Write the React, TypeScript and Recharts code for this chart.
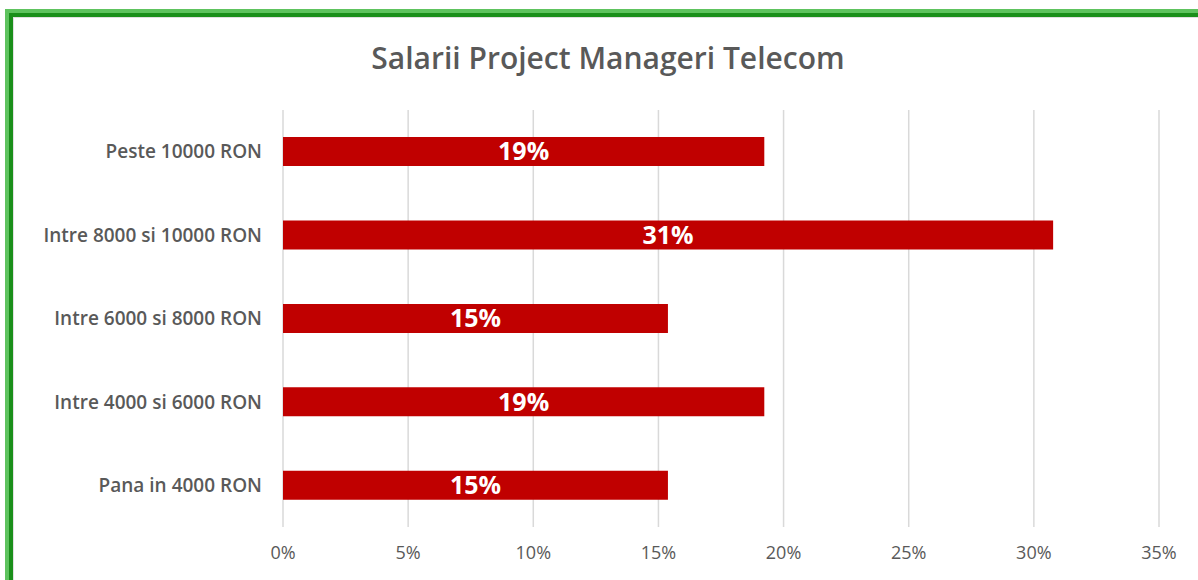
import { BarChart, Bar, XAxis, YAxis, CartesianGrid, LabelList } from "recharts";

const categories: string[] = [
  "Peste 10000 RON",
  "Intre 8000 si 10000 RON",
  "Intre 6000 si 8000 RON",
  "Intre 4000 si 6000 RON",
  "Pana in 4000 RON",
];

// share of respondents, in percent
const shares: number[] = [19.23, 30.77, 15.38, 19.23, 15.38];

const xTicks: number[] = [0, 5, 10, 15, 20, 25, 30, 35];

const data = categories.map((name, i) => ({ name, value: shares[i] }));

const gray = "#595959";
const font = "'Open Sans', 'Liberation Sans', sans-serif";

export default function App() {
  return (
    <div
      style={{
        position: "absolute",
        left: 0,
        top: 0,
        width: 1198,
        height: 580,
        background: "#fff",
        overflow: "hidden",
      }}
    >
      {/* green frame, only the top and left edges are visible */}
      <div
        style={{
          position: "absolute",
          left: 5,
          top: 9,
          width: 1300,
          height: 700,
          borderLeft: "4px solid #5ec35e",
          borderTop: "4px solid #5ec35e",
        }}
      >
        <div
          style={{
            position: "absolute",
            left: 0,
            top: 0,
            width: 1300,
            height: 700,
            borderLeft: "4px solid #1a8f1a",
            borderTop: "4px solid #1a8f1a",
            boxShadow: "inset 1px 1px 0 #e0e0e0",
          }}
        />
      </div>

      <div
        style={{
          position: "absolute",
          left: 0,
          top: 37,
          width: 1216,
          textAlign: "center",
          fontFamily: font,
          fontWeight: 600,
          fontSize: 30,
          color: gray,
          lineHeight: "42px",
        }}
      >
        Salarii Project Manageri Telecom
      </div>

      <div style={{ position: "absolute", left: 0, top: 0 }}>
        <BarChart
          width={1198}
          height={580}
          data={data}
          layout="vertical"
          margin={{ top: 110, right: 39, bottom: 0, left: 0 }}
          barCategoryGap="32.5%"
        >
          <CartesianGrid horizontal={false} stroke="#d9d9d9" strokeWidth={1.5} />
          <XAxis
            type="number"
            domain={[0, 35]}
            ticks={xTicks}
            tickFormatter={(v: number) => `${v}%`}
            axisLine={false}
            tickLine={false}
            tickMargin={13}
            height={53}
            interval={0}
            tick={{ fill: gray, fontSize: 18, fontFamily: font }}
          />
          <YAxis
            type="category"
            dataKey="name"
            width={283}
            axisLine={false}
            tickLine={false}
            tickMargin={15}
            tick={{ fill: gray, fontSize: 19, fontFamily: font, fontWeight: 600 }}
          />
          <Bar dataKey="value" fill="#c00000" isAnimationActive={false}>
            <LabelList
              dataKey="value"
              position="center"
              formatter={(v: number) => `${Math.round(v)}%`}
              fill="#ffffff"
              style={{ fontSize: 25, fontWeight: 700, fontFamily: font }}
            />
          </Bar>
        </BarChart>
      </div>
    </div>
  );
}
